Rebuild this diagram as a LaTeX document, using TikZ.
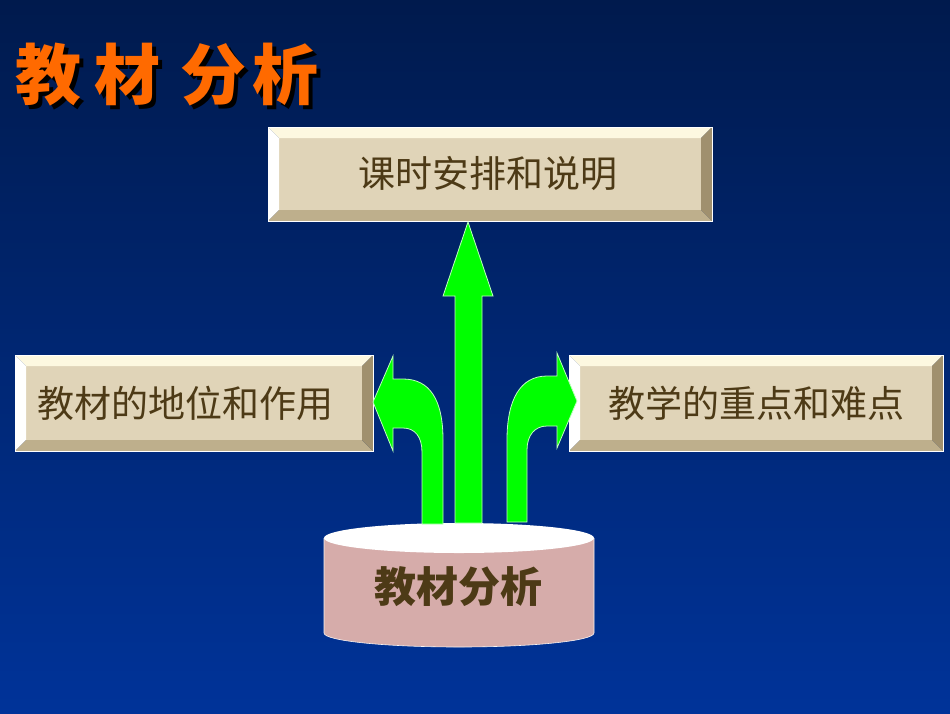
\documentclass[tikz,border=0pt]{standalone}
\usepackage{fontspec}
\setmainfont{Noto Sans CJK SC}
\newfontfamily\titlefont{Noto Sans CJK SC}[UprightFont=* Black]
\usepackage{tikz}
\usetikzlibrary{positioning}

\definecolor{bgtop}{RGB}{0,26,77}
\definecolor{bgbot}{RGB}{0,51,153}
\definecolor{facecol}{RGB}{224,212,184}
\definecolor{toplite}{RGB}{253,248,224}
\definecolor{botdark}{RGB}{190,175,140}
\definecolor{rightdark}{RGB}{160,144,110}
\definecolor{inkbrown}{RGB}{77,58,22}
\definecolor{titleorange}{RGB}{255,106,0}
\definecolor{arrowgreen}{RGB}{0,255,0}
\definecolor{pinkbody}{RGB}{214,172,170}

\tikzset{
  boxtext/.style={text=inkbrown, font=\fontsize{37}{42}\selectfont, inner sep=0pt},
  titletext/.style={font=\titlefont\fontsize{66}{72}\selectfont, anchor=west, inner sep=0pt},
  bigarrow/.style={fill=arrowgreen, draw=green!25!white, line width=0.8pt, line join=miter}
}

\begin{document}
\begin{tikzpicture}[x=1pt,y=-1pt]

        \pgfmathsetmacro{\b}{11}

        % background
        \shade[top color=bgtop, bottom color=bgbot] (0,0) rectangle (950,713);
        \useasboundingbox (0,0) rectangle (950,713);

        % title with shadow
        \node (titleshadow) [titletext, text=black] at (19,79)
          {教\hspace{13pt}材\hspace{20pt}分\hspace{6pt}析};
        \node (title) [titletext, text=titleorange] at (15,75)
          {教\hspace{13pt}材\hspace{20pt}分\hspace{6pt}析};

        % bevelled boxes
        \foreach \nm/\xa/\ya/\xb/\yb/\dx/\txt in
          {plan/268/127/712/221/-2/课时安排和说明,
           role/15/355/373/451/-9/教材的地位和作用,
           focus/569/355/943/451/0/教学的重点和难点}
        {
          \fill[facecol] ({\xa+\b},{\ya+\b}) rectangle ({\xb-\b},{\yb-\b});
          \fill[toplite] (\xa,\ya) -- (\xb,\ya) -- ({\xb-\b},{\ya+\b}) -- ({\xa+\b},{\ya+\b}) -- cycle;
          \fill[white] (\xa,\ya) -- ({\xa+\b},{\ya+\b}) -- ({\xa+\b},{\yb-\b}) -- (\xa,\yb) -- cycle;
          \fill[botdark] (\xa,\yb) -- ({\xa+\b},{\yb-\b}) -- ({\xb-\b},{\yb-\b}) -- (\xb,\yb) -- cycle;
          \fill[rightdark] (\xb,\ya) -- (\xb,\yb) -- ({\xb-\b},{\yb-\b}) -- ({\xb-\b},{\ya+\b}) -- cycle;
          \draw[white, line width=0.6pt] (\xa,\ya) rectangle (\xb,\yb);
          \node (\nm) [boxtext] at ({(\xa+\xb)/2+\dx},{(\ya+\yb)/2}) {\txt};
        }

        % cylinder
        \fill[pinkbody] (324,538) -- (324,633)
          arc[start angle=180, end angle=0, x radius=135, y radius=14]
          -- (594,538) -- cycle;
        \draw[white!85!pinkbody, line width=0.6pt] (324,538) -- (324,633)
          arc[start angle=180, end angle=0, x radius=135, y radius=14] -- (594,538);
        \fill[white] (459,538) ellipse[x radius=135, y radius=15];
        \node (base) [text=inkbrown, font=\bfseries\fontsize{42}{48}\selectfont]
          at (458,587) {教材分析};

        % arrows
        \draw[bigarrow] (455,523) -- (455,296) -- (443,296) -- (468,222)
          -- (493,296) -- (482,296) -- (482,523) -- cycle;

        \draw[bigarrow] (443,524) -- (443,440)
          .. controls (443,400) and (430,379) .. (403,379)
          -- (393,379) -- (393,356) -- (373,402) -- (393,451) -- (393,428) -- (403,428)
          .. controls (415,428) and (422,437) .. (422,452)
          -- (422,524) -- cycle;

        \draw[bigarrow] (507,522) -- (507,440)
          .. controls (507,400) and (520,376) .. (547,376)
          -- (557,376) -- (557,353) -- (577,401) -- (557,448) -- (557,426) -- (547,426)
          .. controls (535,426) and (527,435) .. (527,450)
          -- (527,522) -- cycle;

      \end{tikzpicture}
\end{document}
